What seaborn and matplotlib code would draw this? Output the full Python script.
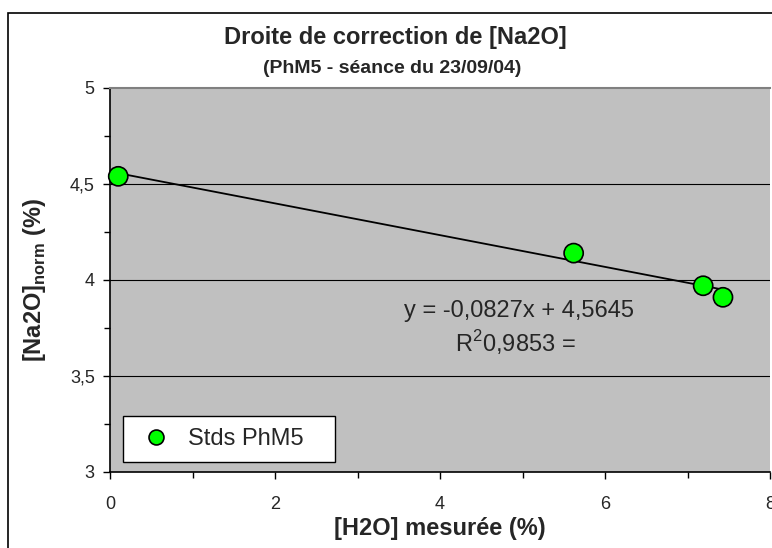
import matplotlib
matplotlib.use("Agg")
import matplotlib.pyplot as plt
import seaborn as sns
import numpy as np
import pandas as pd
from matplotlib.patches import Rectangle
from matplotlib.ticker import MultipleLocator, FuncFormatter

# ---- data ----
h2o_measured = [0.10, 5.62, 7.19, 7.43]
na2o_norm = [4.54, 4.14, 3.97, 3.91]
series_name = "Stds PhM5"
slope = -0.0827
intercept = 4.5645
r2_text = "0,9853"
title = "Droite de correction de [Na2O]"
subtitle = "(PhM5 - séance du 23/09/04)"
xlabel = "[H2O] mesurée (%)"
ylabel = "[Na2O]$_{\\mathbf{norm}}$ (%)"

sns.set_theme(style="white")
plt.rcParams['font.family'] = ['Liberation Sans', 'DejaVu Sans']
plt.rcParams['mathtext.fontset'] = 'custom'
plt.rcParams['mathtext.rm'] = 'Liberation Sans'
plt.rcParams['mathtext.bf'] = 'Liberation Sans:bold'

W, H = 772, 548
fig = plt.figure(figsize=(W / 100, H / 100), dpi=100)
fig.patch.set_facecolor("white")

# outer chart border
fig.patches.append(Rectangle((8 / W, -0.05), 1.2, 1 - 13 / H + 0.05,
                             transform=fig.transFigure, fill=False,
                             edgecolor="black", linewidth=1.2, zorder=0))

ax = fig.add_axes([110 / W, 1 - 472 / H, 660 / W, (472 - 88) / H])
ax.set_facecolor("#C0C0C0")

df = pd.DataFrame({"x": h2o_measured, "y": na2o_norm, "s": series_name})

# trendline
xl = np.array([min(h2o_measured), max(h2o_measured)])
sns.lineplot(x=xl, y=slope * xl + intercept, ax=ax, color="black",
             linewidth=1.3, zorder=3, legend=False)

sns.scatterplot(data=df, x="x", y="y", hue="s", palette=["#00FF00"],
                s=190, edgecolor="black", linewidth=1.2, ax=ax, zorder=4,
                clip_on=False)

ax.set_xlim(0, 8)
ax.set_ylim(3, 5)
ax.xaxis.set_major_locator(MultipleLocator(2))
ax.xaxis.set_minor_locator(MultipleLocator(1))
ax.yaxis.set_major_locator(MultipleLocator(0.5))
ax.yaxis.set_minor_locator(MultipleLocator(0.25))
fmt = FuncFormatter(lambda v, p: ("%g" % v).replace(".", ","))
ax.xaxis.set_major_formatter(fmt)
ax.yaxis.set_major_formatter(fmt)
ax.tick_params(axis="both", which="both", direction="out", color="black",
               bottom=True, left=True, labelsize=13, width=1)
ax.tick_params(axis="x", pad=12)
ax.tick_params(axis="y", pad=6)
ax.tick_params(which="major", length=5)
ax.tick_params(which="minor", length=4)

for yv in [3.5, 4.0, 4.5]:
    ax.axhline(yv, color="black", linewidth=0.8, zorder=1)

for side in ["left", "bottom"]:
    ax.spines[side].set_color("black")
    ax.spines[side].set_linewidth(1.2)
ax.spines["top"].set_color("#808080")
ax.spines["top"].set_linewidth(1.5)
ax.spines["right"].set_visible(False)

ax.set_xlabel(xlabel, fontsize=17, fontweight="bold")
ax.xaxis.set_label_coords(0.5, -0.117)
ax.set_ylabel(ylabel, fontsize=17, fontweight="bold")
ax.yaxis.set_label_coords(-0.094, 0.5)

fig.text(395 / W, 1 - 44 / H, title, ha="center", va="baseline",
         fontsize=17, fontweight="bold")
fig.text(392 / W, 1 - 73 / H, subtitle, ha="center", va="baseline",
         fontsize=14, fontweight="bold")

ax.text(4.96, 3.805, "y = -0,0827x + 4,5645", ha="center", va="baseline",
        fontsize=17, zorder=5)
ax.text(4.91, 3.623, "R$^2$" + r2_text + " =", ha="center", va="baseline",
        fontsize=17, zorder=5)

handles, labels = ax.get_legend_handles_labels()
leg = ax.legend(handles, [series_name + "   "], loc="lower left",
                bbox_to_anchor=(13 / 660, 10 / 384),
                frameon=True, fancybox=False, framealpha=1, fontsize=17,
                markerscale=0.78, handletextpad=0.45, borderpad=0.5,
                borderaxespad=0, handlelength=1.8)
leg.get_frame().set_edgecolor("black")
leg.get_frame().set_linewidth(1)
leg.get_frame().set_facecolor("white")

fig.savefig("out.png", dpi=100)
